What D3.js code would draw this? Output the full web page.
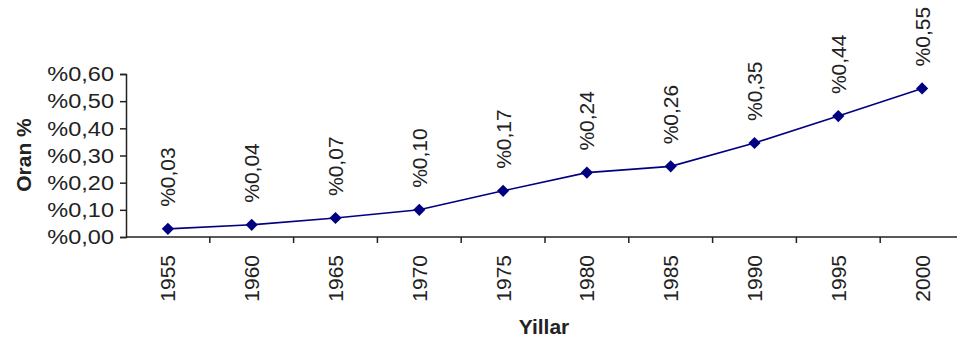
<!DOCTYPE html>
<html><head><meta charset="utf-8">
<script src="https://cdn.jsdelivr.net/npm/d3@7"></script>
<style>body{margin:0;background:#fff}svg{display:block}</style>
</head><body>
<script>
const years = ["1955","1960","1965","1970","1975","1980","1985","1990","1995","2000"];
const values = [0.03,0.045,0.07,0.10,0.17,0.237,0.26,0.346,0.445,0.547];
const valueLabels = ["%0,03","%0,04","%0,07","%0,10","%0,17","%0,24","%0,26","%0,35","%0,44","%0,55"];
const yTicks = [0,0.1,0.2,0.3,0.4,0.5,0.6];

const W=957,H=342;
const svg=d3.select("body").append("svg").attr("width",W).attr("height",H);
const font="'Liberation Sans', Arial, sans-serif";
const x=d3.scaleBand().domain(years).range([126,964]).paddingInner(0).paddingOuter(0);
const y=d3.scaleLinear().domain([0,0.6]).range([237,74]);

// y axis
const ya=svg.append("g").attr("transform","translate(126,0)")
  .call(d3.axisLeft(y).tickValues(yTicks).tickSize(6).tickPadding(6)
    .tickFormat(d=>"%"+d.toFixed(2).replace(".",",")));
ya.select(".domain").attr("stroke","#222").attr("stroke-width",1.5);
ya.selectAll(".tick line").attr("stroke","#222").attr("stroke-width",1.5);
ya.selectAll("text").attr("font-family",font).attr("font-size",21).attr("fill","#222")
  .attr("x",-12/1.12).attr("transform","scale(1.12,1)");

// x axis
const xa=svg.append("g").attr("transform","translate(0,237)")
  .call(d3.axisBottom(x).tickSize(0).tickPadding(0));
xa.select(".domain").remove();
xa.append("line").attr("x1",126).attr("x2",W).attr("stroke","#222").attr("stroke-width",1.5);
xa.selectAll(".tick text").attr("font-family",font).attr("font-size",21).attr("fill","#222")
  .attr("text-anchor","end").attr("transform","rotate(-90)").attr("x",-18).attr("y",0).attr("dy","0.36em");
xa.selectAll(".bound").data(years.slice(1)).enter().append("line").attr("class","bound")
  .attr("x1",d=>x(d)).attr("x2",d=>x(d)).attr("y1",0).attr("y2",6).attr("stroke","#222").attr("stroke-width",1.5);

// line
const cx=d=>x(d)+x.bandwidth()/2;
svg.append("path").datum(values.map((v,i)=>[years[i],v]))
  .attr("d",d3.line().x(d=>cx(d[0])).y(d=>y(d[1])))
  .attr("fill","none").attr("stroke","#000080").attr("stroke-width",1.6);
svg.selectAll(".mk").data(values).enter().append("path").attr("class","mk")
  .attr("transform",(v,i)=>`translate(${cx(years[i])},${y(v)})`)
  .attr("d",d3.symbol(d3.symbolDiamond2,95)).attr("fill","#000080");

// data labels
svg.selectAll(".dl").data(values).enter().append("text").attr("class","dl")
  .attr("transform",(v,i)=>`translate(${cx(years[i])},${y(v)-22}) rotate(-90)`)
  .attr("dy","0.36em").attr("text-anchor","start")
  .attr("font-family",font).attr("font-size",21).attr("fill","#222")
  .text((v,i)=>valueLabels[i]);

// axis titles
svg.append("text").attr("x",544).attr("y",334).attr("text-anchor","middle")
  .attr("font-family",font).attr("font-size",21).attr("font-weight","bold").attr("fill","#222").text("Yillar");
svg.append("text").attr("transform","translate(31,155) rotate(-90)").attr("text-anchor","middle")
  .attr("font-family",font).attr("font-size",21).attr("font-weight","bold").attr("fill","#222").text("Oran %");
</script>
</body></html>
